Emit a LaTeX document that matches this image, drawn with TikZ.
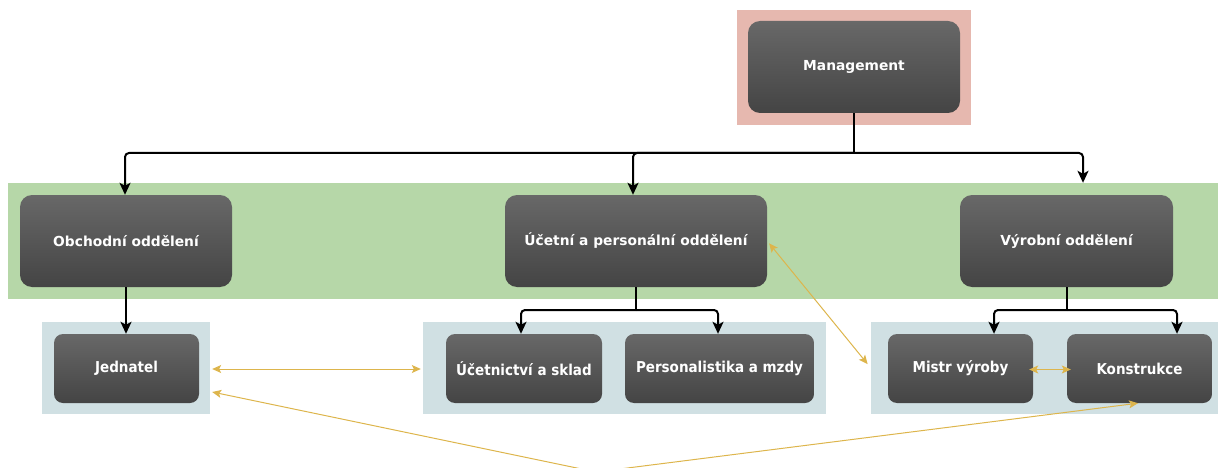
\documentclass[tikz,border=0pt]{standalone}
\usepackage{fontspec}
\setmainfont{DejaVu Sans}
\newfontfamily\boxfont{DejaVu Sans}
\newfontfamily\condfont{DejaVu Sans Condensed}
\usetikzlibrary{arrows.meta}
\definecolor{pinkbg}{HTML}{E6B8AF}
\definecolor{greenbg}{HTML}{B6D7A8}
\definecolor{bluebg}{HTML}{D0E0E3}
\definecolor{goldline}{HTML}{DDB54C}
\definecolor{boxtop}{HTML}{686868}
\definecolor{boxbot}{HTML}{444444}
\tikzset{
  bigbox/.style={rectangle, rounded corners=12pt, top color=boxtop, bottom color=boxbot,
    draw=none, text=white, font=\boxfont\bfseries\fontsize{13.8}{16}\selectfont,
    minimum height=92pt, inner sep=0pt},
  smallbox/.style={rectangle, rounded corners=9pt, top color=boxtop, bottom color=boxbot,
    draw=none, text=white, font=\condfont\bfseries\fontsize{15}{18}\selectfont,
    minimum height=69pt, inner sep=0pt},
  band/.style={rectangle, draw=none, inner sep=0pt},
  tree/.style={draw=black, line width=2pt, rounded corners=4pt, -{Stealth[length=12pt,width=11pt,inset=3pt]}},
  treeline/.style={draw=black, line width=2pt, rounded corners=4pt},
  link/.style={draw=goldline, line width=1pt, {Stealth[length=9pt,width=8pt,inset=2pt]}-{Stealth[length=9pt,width=8pt,inset=2pt]}}
}
\begin{document}
\begin{tikzpicture}[x=1pt,y=-1pt]
\useasboundingbox (0,0) rectangle (1218,468);
% backgrounds
\node[band, fill=pinkbg, minimum width=234pt, minimum height=115pt] (gM) at (854,67.5) {};
\node[band, fill=greenbg, minimum width=1210pt, minimum height=116pt] (gG) at (613,241) {};
\node[band, fill=bluebg, minimum width=168pt, minimum height=92pt] (gJ) at (126,368) {};
\node[band, fill=bluebg, minimum width=403pt, minimum height=92pt] (gC) at (624.5,368) {};
\node[band, fill=bluebg, minimum width=347pt, minimum height=92pt] (gR) at (1044.5,368) {};
% boxes
\node[bigbox, minimum width=212pt] (mgmt) at (854,67) {Management};
\node[bigbox, minimum width=212pt] (obch) at (126,241) {Obchodní oddělení};
\node[bigbox, minimum width=262pt] (ucet) at (636,241) {Účetní a personální oddělení};
\node[bigbox, minimum width=213pt] (vyr) at (1066.5,241) {Výrobní oddělení};
\node[smallbox, minimum width=145pt] (jed) at (126.5,368.5) {Jednatel};
\node[smallbox, minimum width=156pt] (ucsk) at (524,368.5) {Účetnictví a sklad};
\node[smallbox, minimum width=189pt] (pers) at (719.5,368.5) {Personalistika a mzdy};
\node[smallbox, minimum width=145pt] (mistr) at (960.5,368.5) {Mistr výroby};
\node[smallbox, minimum width=145pt] (kon) at (1139.5,368.5) {Konstrukce};
% tree connectors
\coordinate (m1) at (854,153);
\coordinate (u1) at (636,310);
\coordinate (v1) at (1067,310);
\coordinate (low) at (596,472);
\draw[treeline] (mgmt.south) -- (m1);
\draw[tree] (m1) -| ([xshift=-1pt]obch.north);
\draw[tree] (m1) -| ([xshift=-3pt]ucet.north);
\draw[tree, shorten >=12pt] (m1) -| ([xshift=16.5pt]vyr.north);
\draw[tree] (obch.south) -- (obch.south |- jed.north);
\draw[treeline] (ucet.south) -- (u1);
\draw[tree] (u1) -| ([xshift=-3pt]ucsk.north);
\draw[tree] (u1) -| ([xshift=-1.5pt]pers.north);
\draw[treeline] (vyr.south) -- (vyr.south |- v1);
\draw[tree] (v1) -| ([xshift=33.5pt]mistr.north);
\draw[tree] (v1) -| ([xshift=37.5pt]kon.north);
% gold links
\draw[link, shorten <=2pt, shorten >=2pt] ([yshift=-1pt]gJ.east) -- ([yshift=-1pt]gC.west);
\draw[link, shorten <=3pt, shorten >=5pt] (ucet.east) -- (gR.west);
\draw[link, shorten <=-4pt, shorten >=-4pt] ([yshift=-1pt]mistr.east) -- ([yshift=-1pt]kon.west);
\draw[link] ([xshift=2pt,yshift=-24pt]gJ.east) -- (low) -- ([xshift=-1.5pt]kon.south);
\end{tikzpicture}
\end{document}
